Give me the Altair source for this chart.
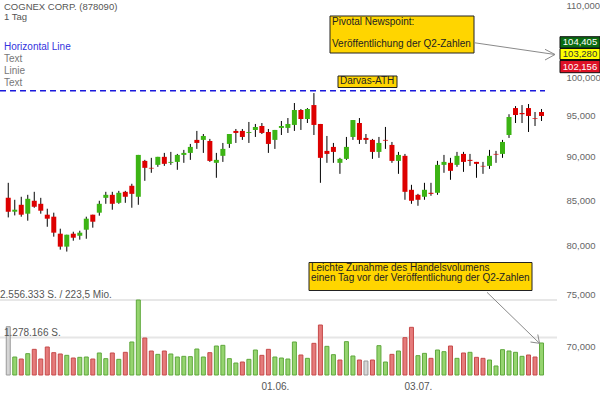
import altair as alt
import numpy as np
import pandas as pd

FONT = "Liberation Sans"

# ---------------- data ----------------
opens = [85.25, 83.70, 84.47, 83.48, 84.92, 84.58, 83.37, 83.15, 81.30, 79.92,
         81.30, 81.08, 81.73, 83.37, 83.59, 85.25, 85.59, 84.69, 85.93, 86.62,
         85.37, 89.52, 88.70, 89.05, 90.00, 89.29, 89.40, 90.23, 90.47, 92.04,
         92.04, 91.91, 89.29, 90.12, 91.55, 93.14, 93.14, 92.89, 93.26, 93.75,
         93.01, 92.04, 93.51, 93.51, 93.88, 95.75, 94.62, 96.38, 94.00, 90.71,
         91.19, 89.29, 89.76, 92.40, 94.12, 92.28, 92.04, 90.59, 92.04, 91.43,
         89.52, 90.12, 86.16, 85.59, 85.37, 85.82, 85.82, 89.05, 89.29, 89.05,
         90.35, 89.64, 89.40, 88.93, 88.93, 90.35, 90.35, 92.64, 96.00, 95.37,
         96.00, 94.74, 95.50]
highs = [86.96, 85.03, 85.37, 85.59, 85.93, 85.25, 84.03, 83.59, 81.84, 81.19,
         81.51, 81.62, 83.15, 83.37, 84.92, 85.93, 85.93, 86.04, 86.04, 86.85,
         90.23, 89.64, 89.88, 90.00, 90.47, 90.59, 90.35, 90.83, 91.55, 93.14,
         92.76, 92.16, 90.47, 91.67, 92.76, 93.38, 93.38, 94.25, 94.00, 94.12,
         93.38, 93.26, 94.37, 94.74, 96.64, 95.88, 96.00, 97.92, 94.00, 92.52,
         91.67, 89.88, 92.40, 94.49, 94.74, 92.76, 92.16, 92.40, 93.63, 91.79,
         90.59, 90.35, 86.73, 85.70, 86.96, 86.96, 89.52, 90.23, 89.88, 90.59,
         90.59, 90.35, 89.40, 89.40, 90.83, 90.71, 92.04, 95.22, 96.25, 96.38,
         96.51, 95.50, 95.88]
lows = [83.07, 83.29, 83.15, 82.71, 84.14, 83.48, 82.05, 80.98, 79.60, 79.40,
        80.55, 80.66, 80.76, 81.95, 83.26, 84.58, 83.92, 84.58, 84.69, 84.14,
        84.47, 87.19, 88.12, 88.82, 88.93, 89.05, 88.47, 89.29, 89.64, 90.95,
        90.47, 89.40, 87.54, 89.40, 91.07, 91.67, 92.04, 91.67, 92.40, 92.76,
        90.47, 90.95, 92.64, 92.89, 93.14, 93.26, 94.12, 92.64, 86.96, 89.29,
        89.29, 88.00, 89.64, 92.04, 91.55, 91.55, 89.76, 89.88, 90.95, 89.29,
        88.00, 85.03, 84.58, 84.36, 85.03, 85.48, 85.59, 88.12, 87.31, 88.82,
        88.23, 88.93, 87.54, 88.00, 88.58, 89.29, 89.88, 92.28, 94.12, 94.12,
        93.01, 93.75, 94.37]
closes = [83.70, 83.92, 83.37, 85.14, 84.25, 83.81, 82.93, 81.41, 79.92, 81.19,
          80.87, 81.41, 82.93, 82.60, 84.58, 85.59, 84.58, 85.82, 85.37, 85.70,
          90.23, 88.70, 88.62, 90.00, 89.17, 89.40, 90.23, 90.47, 91.19, 91.67,
          92.52, 89.52, 89.64, 90.95, 92.76, 92.89, 92.40, 93.01, 93.63, 92.89,
          91.55, 93.26, 93.75, 94.00, 95.75, 94.62, 95.88, 93.88, 89.88, 90.35,
          90.59, 89.76, 91.19, 94.49, 92.04, 92.04, 90.59, 91.67, 91.95, 89.52,
          90.23, 85.93, 84.92, 85.03, 86.16, 85.70, 89.05, 89.40, 88.35, 90.12,
          89.40, 89.52, 89.17, 88.86, 90.12, 90.27, 91.79, 94.87, 95.12, 95.22,
          95.00, 94.66, 95.00]
volumes = [1647000, 613000, 545000, 727000, 875000, 545000, 954000, 761000, 716000, 670000,
           579000, 602000, 613000, 545000, 750000, 557000, 750000, 534000, 773000, 1125000,
           2556333, 1261000, 818000, 704000, 818000, 716000, 613000, 636000, 625000, 886000,
           613000, 761000, 988000, 1011000, 557000, 409000, 443000, 534000, 852000, 670000,
           875000, 613000, 579000, 545000, 1125000, 682000, 568000, 1079000, 1704000, 977000,
           693000, 511000, 1136000, 648000, 511000, 477000, 511000, 1000000, 443000, 704000,
           818000, 1272000, 1625000, 659000, 738000, 568000, 852000, 795000, 988000, 568000,
           750000, 773000, 602000, 568000, 511000, 307000, 863000, 818000, 773000, 636000,
           682000, 613000, 1091000]
vol_dir = ["flat", "up", "down", "up", "down", "down", "down", "down", "down", "up",
           "down", "up", "up", "down", "up", "up", "down", "up", "down", "up",
           "up", "down", "down", "up", "down", "up", "up", "up", "up", "up",
           "up", "down", "up", "up", "up", "up", "down", "up", "up", "down",
           "down", "up", "up", "up", "up", "down", "up", "down", "down", "up",
           "up", "down", "up", "up", "down", "flat", "down", "up", "up", "down",
           "up", "down", "down", "up", "up", "down", "up", "up", "down", "up",
           "down", "up", "down", "down", "up", "up", "up", "up", "up", "up",
           "down", "down", "up"]

# 105,000 is hidden behind the price tags in the reference
price_ticks = [70, 75, 80, 85, 90, 95, 100, 110]
date_tick_idx = [41, 63]
date_tick_labels = ["01.06.", "03.07."]
darvas_level = 98.23
price_tags = ["104,405", "103,280", "102,156"]
vol_max = 2556333
vol_half = 1278166
vol_max_label = "2.556.333 S. / 223,5 Mio."
vol_half_label = "1.278.166 S."

# ---------------- styling ----------------
GREEN = "#3cb414"
RED = "#dd0000"
vol_fill = {"up": "#95d46f", "down": "#e57b7b", "flat": "#d6d6d6"}
vol_stroke = {"up": "#5fa83c", "down": "#c64a4a", "flat": "#9a9a9a"}
YELLOW = "#ffd500"

n = len(opens)
candles = pd.DataFrame({"i": range(n), "open": opens, "high": highs,
                        "low": lows, "close": closes})
candles["col"] = np.where(candles["close"] > candles["open"], GREEN, RED)
vol = pd.DataFrame({"i": range(n), "vol": volumes, "dir": vol_dir})
vol["fill"] = vol["dir"].map(vol_fill)
vol["stroke"] = vol["dir"].map(vol_stroke)

W, H = 557, 375
xs = alt.Scale(domain=[-0.50, 83.61], nice=False, zero=False)
ps = alt.Scale(type="log", domain=[67.44, 110.75], nice=False)
vs = alt.Scale(domain=[0, vol_max * 5], nice=False, zero=True)

label_expr = " : ".join(f"datum.value == {v} ? '{t}'"
                        for v, t in zip(date_tick_idx, date_tick_labels)) + " : ''"
xa = alt.Axis(values=date_tick_idx, labelExpr=label_expr, title=None, grid=False,
              ticks=False, tickSize=0, domain=False, labelFont=FONT, labelFontSize=10,
              labelColor="#555555", labelPadding=11, labelBaseline="middle",
              labelAngle=0, labelFlush=False, labelOverlap=False)
pa = alt.Axis(orient="right", values=price_ticks,
              labelExpr="replace(format(datum.value, '.3f'), '.', ',')",
              title=None, grid=False, ticks=False, tickSize=0, domain=False,
              labelFont=FONT, labelFontSize=9.5, labelColor="#666666", labelPadding=9,
              labelAlign="left", labelBaseline="middle", labelFlush=False,
              labelOverlap=False)

one = pd.DataFrame({"a": [0]})

# ---------------- volume panel ----------------
vrule_max = alt.Chart(pd.DataFrame({"v": [vol_max]})).mark_rule(
    color="#cfcfcf", strokeWidth=1).encode(
    y=alt.Y("v:Q", scale=vs, axis=None), x=alt.value(0), x2=alt.value(W))
vrule_half = alt.Chart(pd.DataFrame({"v": [vol_half]})).mark_rule(
    color="#e6e6e6", strokeWidth=2).encode(
    y=alt.Y("v:Q", scale=vs, axis=None), x=alt.value(0), x2=alt.value(W))
vbars = alt.Chart(vol).mark_bar(size=4, strokeWidth=1).encode(
    x=alt.X("i:Q", scale=xs, axis=xa),
    y=alt.Y("vol:Q", scale=vs, axis=None),
    color=alt.Color("fill:N", scale=None),
    stroke=alt.Stroke("stroke:N", scale=None))
vol_layer = alt.layer(vrule_max, vrule_half, vbars)

# ---------------- price panel ----------------
dashed = alt.Chart(pd.DataFrame({"level": [darvas_level]})).mark_rule(
    color="#1a1adc", strokeWidth=1.5, strokeDash=[6, 4]).encode(
    y=alt.Y("level:Q", scale=ps, axis=pa), x=alt.value(0), x2=alt.value(545))
wicks = alt.Chart(candles).mark_rule(color="black", strokeWidth=1).encode(
    x=alt.X("i:Q", scale=xs, axis=xa),
    y=alt.Y("low:Q", scale=ps, axis=pa), y2="high:Q")
bodies = alt.Chart(candles).mark_bar(size=5).encode(
    x=alt.X("i:Q", scale=xs, axis=xa),
    y=alt.Y("open:Q", scale=ps, axis=pa), y2="close:Q",
    color=alt.Color("col:N", scale=None))
price_layer = alt.layer(dashed, wicks, bodies)


# ---------------- annotations ----------------
def txt(text, x, y, color="#333333", size=10, align="left", weight="normal"):
    return alt.Chart(one).mark_text(
        text=text, align=align, baseline="middle", font=FONT, fontSize=size,
        color=color, fontWeight=weight).encode(x=alt.value(x), y=alt.value(y))


def box(x0, x1, y0, y1, fill, stroke="#222222"):
    return alt.Chart(one).mark_rect(fill=fill, stroke=stroke, strokeWidth=1).encode(
        x=alt.value(x0), x2=alt.value(x1), y=alt.value(y0), y2=alt.value(y1))


def line(x0, y0, x1, y1, color="#8a8a8a", w=1):
    return alt.Chart(one).mark_rule(color=color, strokeWidth=w).encode(
        x=alt.value(x0), x2=alt.value(x1), y=alt.value(y0), y2=alt.value(y1))


annots = [
    txt("COGNEX CORP. (878090)", 4, 7, "#555555", 9.5),
    txt("1 Tag", 4, 17.2, "#555555", 9.5),
    txt("Horizontal Line", 4, 47, "#3333dd"),
    txt("Text", 4, 59, "#777777"),
    txt("Linie", 4, 71, "#777777"),
    txt("Text", 4, 82.5, "#777777"),
    txt(vol_max_label, 0, 295, "#555555"),
    txt(vol_half_label, 4, 333, "#555555"),
    # Pivotal newspoint box + arrow
    box(330, 474, 16, 53, YELLOW),
    txt("Pivotal Newspoint:", 332, 22, "#222222"),
    txt("Veröffentlichung der Q2-Zahlen", 332, 44, "#222222"),
    line(474, 42.7, 555, 54.5),
    line(545, 49.3, 555, 54.5),
    line(545, 60, 555, 54.5),
    # Darvas box
    box(338, 397, 76, 87.5, YELLOW),
    txt("Darvas-ATH", 340, 81, "#222222"),
    # volume box + arrow
    box(309, 532, 262.5, 290.5, YELLOW),
    txt("Leichte Zunahme des Handelsvolumens", 311, 267.7, "#222222"),
    txt("einen Tag vor der Veröffentlichung der Q2-Zahlen", 311, 277.7, "#222222"),
    line(487, 292.3, 539.5, 343.3),
    line(537.8, 334.5, 539.5, 343.3),
    line(530.5, 342, 539.5, 343.3),
    # price tags
    box(560, 600, 36.7, 48, "#0b6b12", "#111111"),
    box(560, 600, 48.5, 59.5, "#ffff00", "#111111"),
    box(560, 600, 60.5, 72.7, "#dd1126", "#111111"),
    txt(price_tags[0], 580, 42.3, "white", 9.5, "center"),
    txt(price_tags[1], 580, 54, "#333333", 9.5, "center"),
    txt(price_tags[2], 580, 66.6, "white", 9.5, "center"),
]

chart = alt.layer(vol_layer, price_layer, *annots).resolve_scale(
    y="independent"
).properties(
    width=W, height=H,
    padding={"left": 0, "top": 0, "right": 43, "bottom": 25},
    autosize=alt.AutoSizeParams(type="none"),
    background="white",
).configure_view(stroke=None)

chart.save("out.html", embed_options={"renderer": "svg", "actions": False})
